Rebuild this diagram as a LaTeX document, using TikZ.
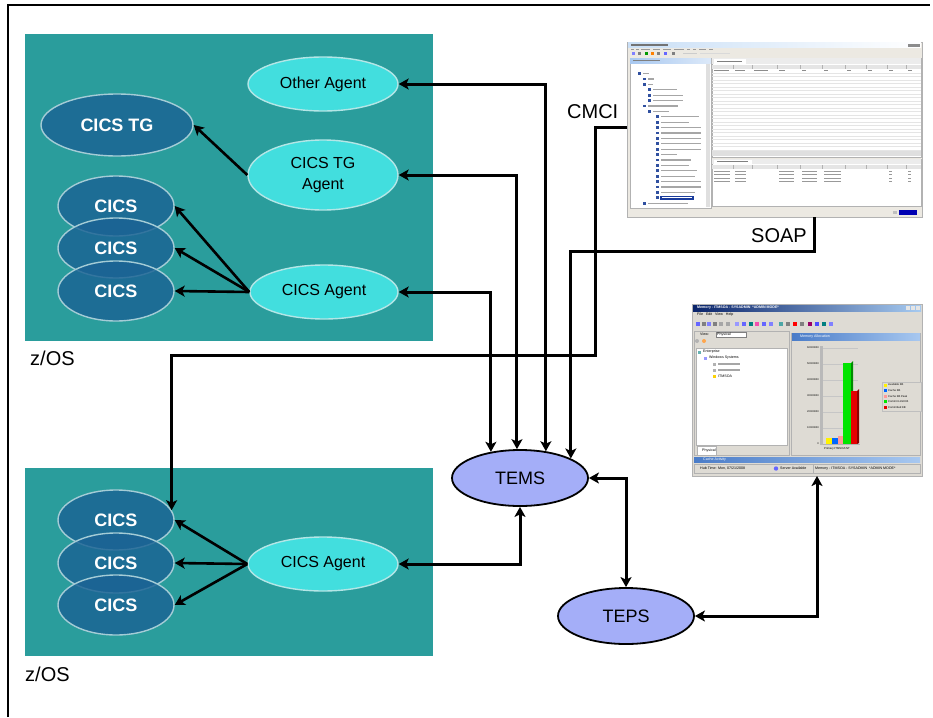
\documentclass[tikz,border=0pt]{standalone}
\usepackage{fontspec}
\setmainfont{Liberation Sans}
\usetikzlibrary{shapes.geometric,arrows.meta}
\definecolor{zosbg}{HTML}{2A9D9C}
\definecolor{agentfill}{HTML}{42DEDE}
\definecolor{agentrim}{HTML}{B4E6E6}
\definecolor{cicsfill}{HTML}{1B6394}
\definecolor{cicsrim}{HTML}{A4CCD6}
\definecolor{srvfill}{HTML}{A4AEF8}
\definecolor{shotbg}{HTML}{ECE9E2}
\definecolor{shotbgB}{HTML}{DEDBD4}
\definecolor{titleA}{HTML}{0A246A}
\definecolor{titleB}{HTML}{A6CAF0}
\definecolor{hdrA}{HTML}{4A7CC8}
\definecolor{hdrB}{HTML}{A8C8F0}
\definecolor{iconblue}{HTML}{3050A0}
\definecolor{selblue}{HTML}{1A3C9C}
\begin{document}
\begin{tikzpicture}[x=1pt,y=-1pt,
  >={Stealth[length=10pt,width=11pt,inset=2.5pt]},
  agent/.style={ellipse, draw=agentrim, line width=1.4pt, fill=agentfill, inner sep=0pt,
    minimum width=150pt, minimum height=54pt, font=\fontsize{16}{21}\selectfont, align=center},
  cics/.style={ellipse, draw=cicsrim, line width=1.4pt, fill=cicsfill, fill opacity=0.82,
    text opacity=1, text=white, inner sep=0pt, minimum width=116pt, minimum height=60pt,
    font=\bfseries\fontsize{18}{20}\selectfont},
  srv/.style={ellipse, draw=black, line width=1.8pt, fill=srvfill, inner sep=0pt,
    minimum width=136pt, minimum height=56pt, font=\fontsize{18}{20}\selectfont},
  conn/.style={line width=3pt},
  inarr/.style={line width=2.6pt, ->},
  lbl/.style={font=\fontsize{20}{22}\selectfont, inner sep=0pt, anchor=base west},
  shotbox/.style={rectangle, draw=gray!60, line width=0.6pt, inner sep=0pt, outer sep=0pt},
  tiny/.style={font=\fontsize{3.6}{4}\selectfont, inner sep=0pt, anchor=west},
]
\useasboundingbox (0,0) rectangle (933,717);
\fill[white] (0,0) rectangle (933,717);
% frame
\draw[line width=1.2pt] (8,717) -- (8,5) -- (930,5);

% z/OS boxes
\fill[zosbg] (25,34) rectangle (433,341);
\fill[zosbg] (25,468) rectangle (433,656);
\node[lbl] (zos1) at (30,365) {z/OS};
\node[lbl] (zos2) at (25,681) {z/OS};

% top box nodes
\node[cics] (c1) at (116,206) {CICS};
\node[cics] (c2) at (116,248) {CICS};
\node[cics] (c3) at (116,291) {CICS};
\node[cics, minimum width=152pt, minimum height=62pt] (tg) at (117,125) {CICS TG};
\node[agent] (oa) at (323,84) {Other Agent};
\node[agent, minimum height=70pt] (tga) at (323,175) {CICS TG\\Agent};
\node[agent, minimum width=148pt] (ca) at (324,292) {CICS Agent};

% bottom box nodes
\node[cics] (bc1) at (116,520) {CICS};
\node[cics] (bc2) at (116,563) {CICS};
\node[cics] (bc3) at (116,605) {CICS};
\node[agent] (bca) at (323,564) {CICS Agent};

% servers
\node[srv] (tems) at (520,478) {TEMS};
\node[srv] (teps) at (626,616) {TEPS};

% ---------- screenshot 1 (Eclipse) ----------
\node[shotbox, fill=shotbg, minimum width=295pt, minimum height=175pt] (shot1) at (774.5,129.5) {};
\shade[left color=titleB!60, right color=white] (628,43) rectangle (921,47.5);
\fill[black!55] (631,44.3) rectangle (668,46.2);
\fill[black!45] (908,44) rectangle (920,46.6);
\foreach \x/\w in {631/3,636/3,641/9,653/7,663/8,674/10,687/3,693/3,699/7,709/4}
  \fill[black!40] (\x,48.6) rectangle ++(\w,1.2);
\foreach \x/\c in {632/blue!50,638/gray,645/green!60!black,651/orange,657/gray,664/blue!60,672/gray}
  \fill[\c] (\x,52) rectangle ++(3,3);
\fill[gray!40] (683,52.6) rectangle (697,54.4);
\fill[gray!30] (700,52.6) rectangle (730,54.4);
% left panel
\fill[white] (630,58) rectangle (711,208);
\draw[gray!60,line width=0.4pt] (630,58) rectangle (711,208);
\shade[left color=hdrB, right color=hdrB!40] (630,58) rectangle (711,63);
\fill[black!50] (633,59.8) rectangle (660,61.2);
\fill[gray!25] (706,64) rectangle (710,207);
\foreach \i/\ind/\len in {0/638/6,1/643/6,2/643/5,3/648/24,4/648/30,5/648/30,6/643/30,7/648/16,
  8/656/38,9/656/28,10/656/40,11/656/40,12/656/40,13/656/40,14/656/40,15/656/16,16/656/30,
  17/656/28,18/656/36,19/656/34,20/656/40,21/656/40,22/656/34,24/643/40}
{
  \fill[iconblue] (\ind,73.5+5.4*\i-1.4) rectangle ++(3,2.8);
  \fill[gray!70] (\ind+4.5,73.5+5.4*\i-0.6) rectangle ++(\len,1.2);
}
\fill[iconblue] (656,73.5+5.4*23-1.4) rectangle ++(3,2.8);
\fill[selblue] (660,73.5+5.4*23-2.2) rectangle (694,73.5+5.4*23+2.2);
\fill[white] (662,73.5+5.4*23-0.6) rectangle (692,73.5+5.4*23+0.6);
% right top panel
\fill[white] (712,58) rectangle (921,157);
\draw[gray!60,line width=0.4pt] (712,58) rectangle (921,157);
\fill[gray!15] (712,58) rectangle (921,64);
\fill[white] (714,59) rectangle (746,64);
\fill[black!50] (717,60.8) rectangle (742,62);
\fill[gray!20] (712,65) rectangle (921,69);
\foreach \x in {733,752,777,800,822,845,866,887,906}
  \draw[gray!60,line width=0.3pt] (\x,65) -- (\x,69);
\foreach \x/\w in {714/15,735/10,754/14,779/6,802/4,824/4,847/4,868/4,889/4,908/4}
  \fill[black!45] (\x,70.3) rectangle ++(\w,1.1);
\foreach \y in {73,76.5,...,150}
  \draw[gray!20,line width=0.3pt] (712,\y) -- (921,\y);
\fill[gray!25] (712,151) rectangle (921,156);
% right bottom panel
\fill[white] (712,159) rectangle (921,206);
\draw[gray!60,line width=0.4pt] (712,159) rectangle (921,206);
\fill[gray!15] (712,159) rectangle (921,164);
\fill[white] (714,159.6) rectangle (752,164);
\fill[black!50] (717,161.2) rectangle (748,162.4);
\fill[gray!20] (712,165) rectangle (921,169);
\foreach \x in {733,752,777,800,822,845,866,887,906}
  \draw[gray!60,line width=0.3pt] (\x,165) -- (\x,169);
\foreach \r in {0,1,2,3}
  \foreach \x/\w in {714/16,735/11,779/15,802/15,824/17,908/3,889/3}
    \fill[black!40] (\x,171+3.3*\r) rectangle ++(\w,1);
% status bar
\fill[blue!70!black] (899,210) rectangle (917,214.5);
\fill[gray!50] (893,210.5) rectangle (897,214);

% ---------- screenshot 2 (Tivoli portal) ----------
\node[shotbox, fill=shotbgB, minimum width=230pt, minimum height=172pt] (shot2) at (807,390) {};
\shade[left color=titleA, right color=titleB] (693,305) rectangle (921,311);
\node[tiny, text=white, font=\bfseries\fontsize{3.6}{4}\selectfont] (ttl) at (697,308) {Memory - ITMSOA - SYSADMIN \ *ADMIN MODE*};
\foreach \x in {906,911,916} \fill[gray!20] (\x,306) rectangle ++(4,4);
\node[tiny] (mnu) at (697,314.5) {File \ \ Edit \ \ View \ \ Help};
\foreach \x/\c in {696/blue!60,702/gray,707/blue!50,713/gray,719/gray!70,726/gray!70,
  735/blue!40,742/blue!60,749/teal,755/magenta!70,762/blue!60,769/blue!50,
  779/teal!70,786/gray,793/red,800/gray,808/red!60!blue,815/blue!70,822/teal,829/blue!50}
  \fill[\c] (\x,321.5) rectangle ++(4,4);
% left panel
\draw[gray!60,line width=0.4pt] (694,331) rectangle (789,455);
\node[tiny] (vw) at (700,334.5) {View:};
\fill[white] (716,332) rectangle (746,337);
\draw[gray,line width=0.3pt] (716,332) rectangle (746,337);
\node[tiny] (vwp) at (717,334.5) {Physical};
\fill[gray!60] (697,341) circle (2);
\fill[orange!70] (704,341) circle (2);
\fill[white] (696,348) rectangle (787,445);
\draw[gray!60,line width=0.3pt] (696,348) rectangle (787,445);
\fill[teal!60] (698,350.5) rectangle ++(3,3);
\node[tiny] (t1) at (703,352) {Enterprise};
\fill[blue!40] (704,356.5) rectangle ++(3,3);
\node[tiny] (t2) at (709,358) {Windows Systems};
\fill[gray!60] (713,362.5) rectangle ++(3,3);
\fill[gray!70] (718,363.4) rectangle ++(22,1.2);
\fill[gray!60] (713,368.5) rectangle ++(3,3);
\fill[gray!70] (718,369.4) rectangle ++(22,1.2);
\fill[yellow!70!orange] (713,374.5) rectangle ++(3,3);
\node[tiny] (t5) at (718,376) {ITMSOA};
\fill[white] (697,446) rectangle (716,455);
\draw[gray!60,line width=0.3pt] (697,446) rectangle (716,455);
\node[tiny] (tab) at (702,450.5) {Physical};
% right panel
\draw[gray!60,line width=0.4pt] (791,333) rectangle (920,455);
\shade[left color=hdrA, right color=hdrB] (792,333) rectangle (920,340);
\node[tiny, text=white] (ma) at (800,336.5) {Memory Allocation};
\fill[gray!55] (820,346) rectangle (823,445);
\foreach \y/\v in {348/60000000,364/50000000,380/40000000,396/30000000,412/20000000,428/10000000,444/0}
{
  \draw[gray!45,line width=0.3pt] (823,\y) -- (858,\y);
  \node[tiny, anchor=east, font=\fontsize{2.6}{3}\selectfont] at (819,\y) {\v};
}
\draw[gray!60,line width=0.4pt] (823,444.5) -- (860,444.5);
\fill[yellow] (826,438) rectangle (832,444);
\fill[blue!60!cyan] (832,438) rectangle (838,444);
\fill[red!40] (838,436) rectangle (843,444);
\fill[green!90!black] (843,363) rectangle (851,444);
\fill[green!55!black] (851,363) -- (853,361) -- (853,443) -- (851,444) -- cycle;
\fill[red!90!black] (851,391) rectangle (857,444);
\fill[red!55!black] (857,391) -- (859,389) -- (859,443) -- (857,444) -- cycle;
\node[tiny, font=\fontsize{2.8}{3}\selectfont] (xl) at (824,448.5) {Primary:ITMSOA:NT};
\draw[gray!50,line width=0.3pt,fill=shotbgB] (882,382) rectangle (921,411);
\foreach \i/\c/\t in {0/yellow/Available KB,1/blue!60!cyan/Cache KB,2/red!40/Cache KB Peak,
  3/green!90!black/Commit Limit KB,4/red!90!black/Committed KB}
{
  \fill[\c] (884,383.5+5.6*\i) rectangle ++(3,3);
  \node[tiny, font=\fontsize{2.7}{3}\selectfont] at (888,385+5.6*\i) {\t};
}
% cache activity & status
\shade[left color=hdrA, right color=hdrB] (694,457) rectangle (920,462);
\node[tiny, text=white] (cact) at (703,459.5) {Cache Activity};
\draw[gray!60,line width=0.3pt] (694,464) rectangle (920,473);
\node[tiny] (st1) at (700,468.5) {Hub Time: Mon, 07/21/2008};
\fill[blue!60] (776,468.5) circle (2.2);
\node[tiny] (st2) at (780,468.5) {Server Available};
\draw[gray!60,line width=0.3pt] (813,464) -- (813,473);
\node[tiny] (st3) at (815,468.5) {Memory - ITMSOA - SYSADMIN \ *ADMIN MODE*};

% labels
\node[lbl] (cmci) at (567,118) {CMCI};
\node[lbl] (soap) at (751,242) {SOAP};

% connectors inside z/OS boxes
\draw[inarr] (tga.west) -- (tg.east);
\draw[inarr] (ca.west) -- (c1.east);
\draw[inarr] (ca.west) -- (c2.east);
\draw[inarr] (ca.west) -- (c3.east);
\draw[inarr] (bca.west) -- (bc1.east);
\draw[inarr] (bca.west) -- (bc2.east);
\draw[inarr] (bca.west) -- (bc3.east);

% long connectors
\draw[conn,<->] (oa.east) -| (tems.46);
\draw[conn,<->] (tga.east) -| (tems.96);
\draw[conn,<->] (ca.east) -| (tems.138);
\draw[conn,->] (shot1.west |- 0,127) -- (595,127) -- (595,355) -| (bc1.10);
\draw[conn,->] (814,0 |- shot1.south) -- (814,251) -| (tems.21);
\draw[conn,<->] (bca.east) -| (tems.south);
\draw[conn,<->] (tems.east) -| (teps.north);
\draw[conn,<->] (teps.east) -| (shot2.south -| 817,0);
\end{tikzpicture}
\end{document}
